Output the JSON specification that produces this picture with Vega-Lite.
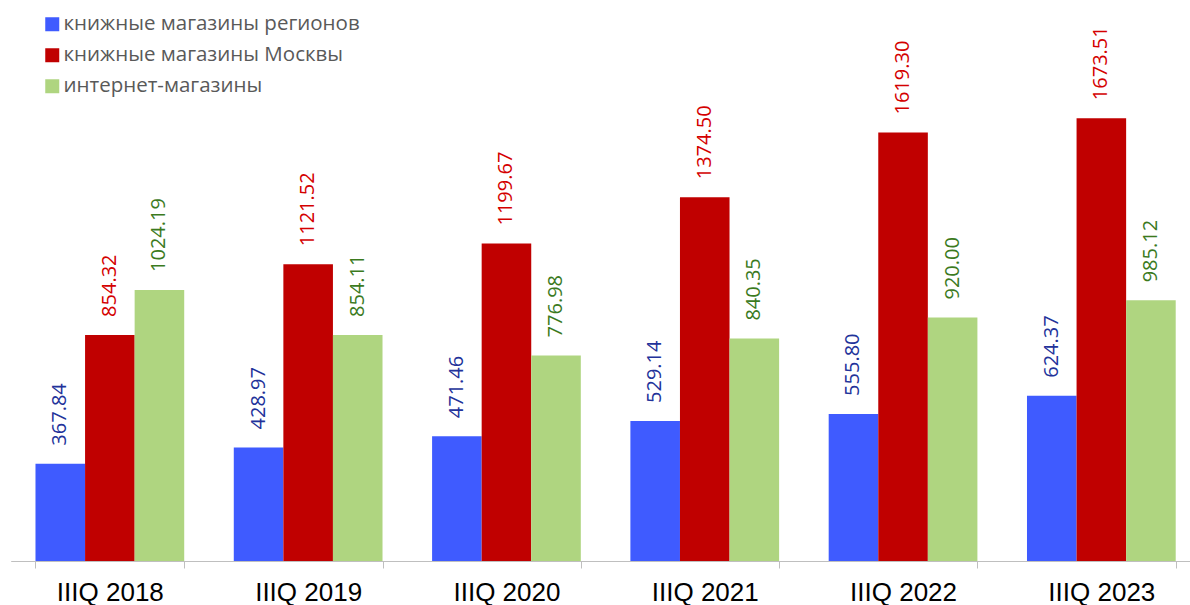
{
  "$schema": "https://vega.github.io/schema/vega-lite/v6.json",
  "width": 1190,
  "height": 561,
  "autosize": "none",
  "padding": {"left": 0, "top": 0, "right": 0, "bottom": 44},
  "background": "white",
  "config": {"view": {"stroke": null}},
  "data": {"values": [
    {"period": "IIIQ 2018", "series": "книжные магазины регионов", "value": 367.84},
    {"period": "IIIQ 2018", "series": "книжные магазины Москвы", "value": 854.32},
    {"period": "IIIQ 2018", "series": "интернет-магазины", "value": 1024.19},
    {"period": "IIIQ 2019", "series": "книжные магазины регионов", "value": 428.97},
    {"period": "IIIQ 2019", "series": "книжные магазины Москвы", "value": 1121.52},
    {"period": "IIIQ 2019", "series": "интернет-магазины", "value": 854.11},
    {"period": "IIIQ 2020", "series": "книжные магазины регионов", "value": 471.46},
    {"period": "IIIQ 2020", "series": "книжные магазины Москвы", "value": 1199.67},
    {"period": "IIIQ 2020", "series": "интернет-магазины", "value": 776.98},
    {"period": "IIIQ 2021", "series": "книжные магазины регионов", "value": 529.14},
    {"period": "IIIQ 2021", "series": "книжные магазины Москвы", "value": 1374.50},
    {"period": "IIIQ 2021", "series": "интернет-магазины", "value": 840.35},
    {"period": "IIIQ 2022", "series": "книжные магазины регионов", "value": 555.80},
    {"period": "IIIQ 2022", "series": "книжные магазины Москвы", "value": 1619.30},
    {"period": "IIIQ 2022", "series": "интернет-магазины", "value": 920.00},
    {"period": "IIIQ 2023", "series": "книжные магазины регионов", "value": 624.37},
    {"period": "IIIQ 2023", "series": "книжные магазины Москвы", "value": 1673.51},
    {"period": "IIIQ 2023", "series": "интернет-магазины", "value": 985.12}
  ]},
  "encoding": {
    "x": {
      "field": "period", "type": "nominal", "sort": null, "title": null,
      "scale": {"range": [10.7, 1200.5], "paddingInner": 0.25, "paddingOuter": 0.125},
      "axis": {
        "labelAngle": 0, "labelFont": "Liberation Sans", "labelFontSize": 26, "labelColor": "#000000",
        "domainColor": "#BFBFBF", "domainWidth": 1, "tickColor": "#BFBFBF", "tickSize": 7, "tickWidth": 1,
        "tickBand": "extent", "labelPadding": 11
      }
    },
    "xOffset": {
      "field": "series", "type": "nominal",
      "sort": ["книжные магазины регионов", "книжные магазины Москвы", "интернет-магазины"],
      "scale": {"paddingInner": 0, "paddingOuter": 0}
    },
    "y": {
      "field": "value", "type": "quantitative",
      "scale": {"domain": [0, 2120], "nice": false, "zero": true},
      "axis": null
    }
  },
  "layer": [
    {
      "mark": {"type": "bar"},
      "encoding": {
        "color": {
          "field": "series", "type": "nominal",
          "sort": ["книжные магазины регионов", "книжные магазины Москвы", "интернет-магазины"],
          "scale": {"domain": ["книжные магазины регионов", "книжные магазины Москвы", "интернет-магазины"], "range": ["#3F5BFF", "#C00000", "#AFD580"]},
          "legend": {
            "title": null, "orient": "none", "legendX": 42, "legendY": 14, "padding": 0,
            "symbolType": "square", "symbolSize": 196, "symbolStrokeWidth": 0,
            "labelFont": "Open Sans", "labelFontSize": 20.5, "labelColor": "#595959",
            "labelOffset": 1, "rowPadding": 10, "labelLimit": 0
          }
        }
      }
    },
    {
      "mark": {"type": "text", "angle": 270, "align": "left", "baseline": "middle", "dx": 18, "font": "Open Sans", "fontSize": 20},
      "encoding": {
        "text": {"field": "value", "type": "quantitative", "format": ".2f"},
        "color": {
          "field": "series", "type": "nominal",
          "scale": {"domain": ["книжные магазины регионов", "книжные магазины Москвы", "интернет-магазины"], "range": ["#22329A", "#D40000", "#3B7A1E"]},
          "legend": null
        }
      }
    }
  ],
  "resolve": {"scale": {"color": "independent"}}
}
